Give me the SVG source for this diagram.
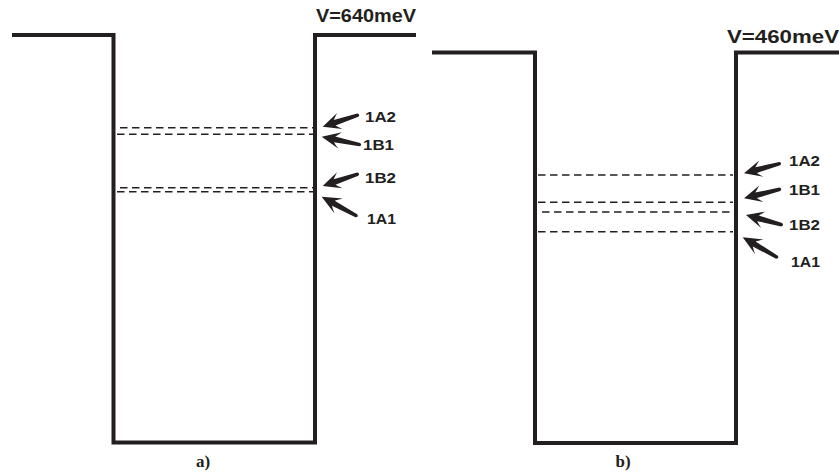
<svg xmlns="http://www.w3.org/2000/svg" xmlns:xlink="http://www.w3.org/1999/xlink" width="839" height="476" viewBox="0 0 839 476">
  <style>
    .wall { fill: none; stroke: #231f20; stroke-width: 4; stroke-linejoin: miter; stroke-linecap: butt; }
    .level { fill: none; stroke: #231f20; stroke-width: 1.5; stroke-dasharray: 7.5 4.5; }
    .arrow { fill: #231f20; }
    .lbl { font-family: "Liberation Sans", Arial, sans-serif; font-weight: bold; font-size: 14.5px; fill: #231f20; }
    .pot { font-family: "Liberation Sans", Arial, sans-serif; font-weight: bold; font-size: 18.5px; fill: #231f20; }
    .cap { font-family: "Liberation Serif", "Times New Roman", serif; font-weight: bold; font-size: 17px; fill: #231f20; text-anchor: middle; }
  </style>
  <defs>
    <!-- pointer: tip at origin, body extends along +x -->
    <path id="ptr" d="M0,0 L18,-8.5 Q14,-4.5 12.5,-2.8 L37,-1.6 Q39.8,0 37,1.8 L12.5,3 Q14,5 18,8.5 Z"/>
  </defs>

  <!-- panel a: 640 meV well -->
  <g id="well-a">
    <polyline class="wall" points="12,35 113.5,35 113.5,442.5 315,442.5 315,35 416,35"/>
    <text class="pot" x="316" y="22" textLength="100" lengthAdjust="spacingAndGlyphs">V=640meV</text>
    <text class="cap" x="203" y="467">a)</text>
  </g>
  <g id="levels-a">
    <line class="level" x1="120" y1="127.7" x2="313" y2="127.7"/>
    <line class="level" x1="117" y1="134.3" x2="313" y2="134.3"/>
    <line class="level" x1="120" y1="187.7" x2="313" y2="187.7"/>
    <line class="level" x1="117" y1="191.7" x2="313" y2="191.7"/>
  </g>
  <g id="labels-a">
    <text class="lbl" x="365" y="122" textLength="31" lengthAdjust="spacingAndGlyphs">1A2</text>
    <text class="lbl" x="363" y="150" textLength="31" lengthAdjust="spacingAndGlyphs">1B1</text>
    <text class="lbl" x="365" y="183" textLength="31" lengthAdjust="spacingAndGlyphs">1B2</text>
    <text class="lbl" x="367" y="224" textLength="29" lengthAdjust="spacingAndGlyphs">1A1</text>
  </g>

  <!-- panel b: 460 meV well -->
  <g id="well-b">
    <polyline class="wall" points="432,52.5 535,52.5 535,443 736,443 736,52.5 839,52.5"/>
    <text class="pot" x="727" y="43" textLength="112" lengthAdjust="spacingAndGlyphs">V=460meV</text>
    <text class="cap" x="623" y="467">b)</text>
  </g>
  <g id="levels-b">
    <line class="level" x1="538" y1="175" x2="733" y2="175"/>
    <line class="level" x1="538" y1="202.3" x2="733" y2="202.3"/>
    <line class="level" x1="542" y1="212" x2="733" y2="212"/>
    <line class="level" x1="538" y1="231.7" x2="733" y2="231.7"/>
  </g>
  <g id="labels-b">
    <text class="lbl" x="789" y="166" textLength="31" lengthAdjust="spacingAndGlyphs">1A2</text>
    <text class="lbl" x="789" y="195" textLength="31" lengthAdjust="spacingAndGlyphs">1B1</text>
    <text class="lbl" x="789" y="230" textLength="31" lengthAdjust="spacingAndGlyphs">1B2</text>
    <text class="lbl" x="791" y="267" textLength="29" lengthAdjust="spacingAndGlyphs">1A1</text>
  </g>

  <!-- pointers from labels to levels -->
  <g id="connectors" class="arrow">
    <use xlink:href="#ptr" transform="translate(322.7,126.7) rotate(-18.3)"/>
    <use xlink:href="#ptr" transform="translate(321.7,136.7) rotate(11.7) scale(1.05,1)"/>
    <use xlink:href="#ptr" transform="translate(322.7,186) rotate(-18.8)"/>
    <use xlink:href="#ptr" transform="translate(321.7,196.7) rotate(28.8) scale(1.07,1)"/>
    <use xlink:href="#ptr" transform="translate(744,173.3) rotate(-15.2)"/>
    <use xlink:href="#ptr" transform="translate(744,198.3) rotate(-14.3)"/>
    <use xlink:href="#ptr" transform="translate(746,215) rotate(15.1)"/>
    <use xlink:href="#ptr" transform="translate(742.7,237.3) rotate(30) scale(1.07,1)"/>
  </g>
</svg>
